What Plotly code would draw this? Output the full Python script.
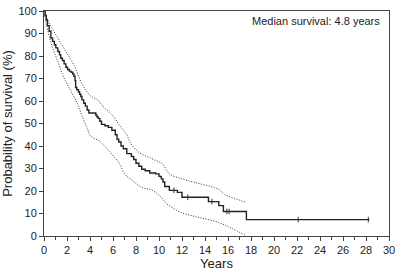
import plotly.graph_objects as go

# Kaplan-Meier estimate (step points)
km_t = [0, 0.1, 0.2, 0.3, 0.45, 0.6, 0.75, 0.9, 1.03, 1.2, 1.35, 1.46, 1.6, 1.75, 1.9, 2.05, 2.2, 2.35, 2.5,
        2.6, 2.7, 2.75, 2.85, 3.0, 3.1, 3.2, 3.3, 3.45, 3.6, 3.75, 3.9, 4.5, 4.6, 4.7, 4.85, 5.0, 5.3, 5.6,
        5.9, 6.2, 6.35, 6.5, 6.7, 6.9, 7.2, 7.6, 7.8, 8.0, 8.25, 8.5, 8.8, 9.2, 9.7, 10.0, 10.2, 10.35, 10.5,
        10.9, 11.6, 12.0, 14.3, 15.2, 15.6, 17.6, 28.3]
km_s = [100, 98, 96, 93.5, 91, 88, 86.5, 85, 83.6, 82, 80.5, 79, 78, 76.5, 75, 74, 73.3, 72.8, 72,
        71, 69, 66, 65, 64, 63, 62, 60.5, 59, 57.7, 56, 54.7, 53.8, 53, 52.3, 51, 49.6, 49, 48.3,
        47, 45, 43, 41.8, 40, 38.8, 36.6, 35.3, 34, 32.3, 31, 29.7, 29, 28, 27.6, 26.5, 25.4, 24, 22,
        20.3, 19.4, 17.2, 15.3, 13.5, 10.9, 7.3, 7.3]

# Censoring marks
cens_t = [11.3, 12.5, 14.6, 15.9, 16.1, 22.1, 28.2]
cens_s = [20.3, 17.2, 15.3, 10.9, 10.9, 7.3, 7.3]

# Upper 95% CI
up_t = [0, 0.4, 1.2, 1.9, 2.6, 3.3, 4.0, 4.7, 5.1, 5.9, 6.6, 7.2, 7.5, 8.3, 9.4, 10.3, 10.9, 12.0, 13.2,
        13.5, 15.2, 15.7, 17.6]
up_s = [100, 95, 88, 82, 76, 67.7, 62.5, 60.3, 57.7, 54, 49, 45, 41.5, 37, 34.3, 32, 27.6, 25.4, 23.7,
        23.3, 20.7, 18.5, 15]

# Lower 95% CI
lo_t = [0, 0.17, 0.6, 1.2, 1.7, 2.3, 2.9, 3.3, 3.8, 4.0, 4.9, 5.7, 6.6, 7.0, 7.7, 8.5, 9.4, 10.2, 10.6,
        11.2, 12.0, 12.9, 13.5, 15.2, 16.3, 17.5]
lo_s = [100, 95, 86, 77.6, 70.7, 64.7, 59, 53.4, 47.4, 44.8, 41.8, 37.5, 31.9, 27.6, 24.6, 21.6, 20.3,
        17.2, 14.6, 12.5, 10.3, 9, 8.2, 6, 3.4, 0.4]

x_ticks = list(range(0, 31, 2))
y_ticks = list(range(0, 101, 10))

fig = go.Figure()
fig.add_trace(go.Scatter(x=up_t, y=up_s, mode="lines",
                         line=dict(color="#333", width=1, dash="1px,1.6px", shape="spline"), hoverinfo="skip"))
fig.add_trace(go.Scatter(x=lo_t, y=lo_s, mode="lines",
                         line=dict(color="#333", width=1, dash="1px,1.6px", shape="spline"), hoverinfo="skip"))
fig.add_trace(go.Scatter(x=km_t, y=km_s, mode="lines", line=dict(color="#222", width=1.4, shape="hv")))
fig.add_trace(go.Scatter(x=cens_t, y=cens_s, mode="markers",
                         marker=dict(symbol="line-ns", size=4, line=dict(color="#333", width=1))))

font = dict(family="Liberation Sans, Arial, sans-serif", size=11, color="#222")
fig.update_layout(
    width=400, height=272, margin=dict(l=43, r=7, t=5, b=35),
    paper_bgcolor="white", plot_bgcolor="white", showlegend=False, font=font,
    xaxis=dict(range=[0, 30], tickvals=x_ticks, ticks="outside", ticklen=4, tickcolor="#444",
               showline=True, linecolor="#444", linewidth=1, mirror=True, showgrid=False, zeroline=False,
               title=dict(text="Years", standoff=2), tickfont=font, ticklabeloverflow="allow",
               minor=dict(dtick=1, ticks="outside", ticklen=3, tickcolor="#444", showgrid=False)),
    yaxis=dict(range=[0, 100], tickvals=y_ticks, ticks="outside", ticklen=4, tickcolor="#444",
               showline=True, linecolor="#444", linewidth=1, mirror=True, showgrid=False, zeroline=False,
               title=dict(text="Probability of survival (%)", standoff=4), tickfont=font,
               ticklabeloverflow="allow"),
    annotations=[dict(text="Median survival: 4.8 years", x=0.98, y=0.955, xref="paper", yref="paper",
                      xanchor="right", yanchor="middle", showarrow=False, font=font)],
)
fig.write_html("out.html", config={"displayModeBar": False},
               post_script="document.body.style.margin='0';document.body.style.overflow='hidden';")
